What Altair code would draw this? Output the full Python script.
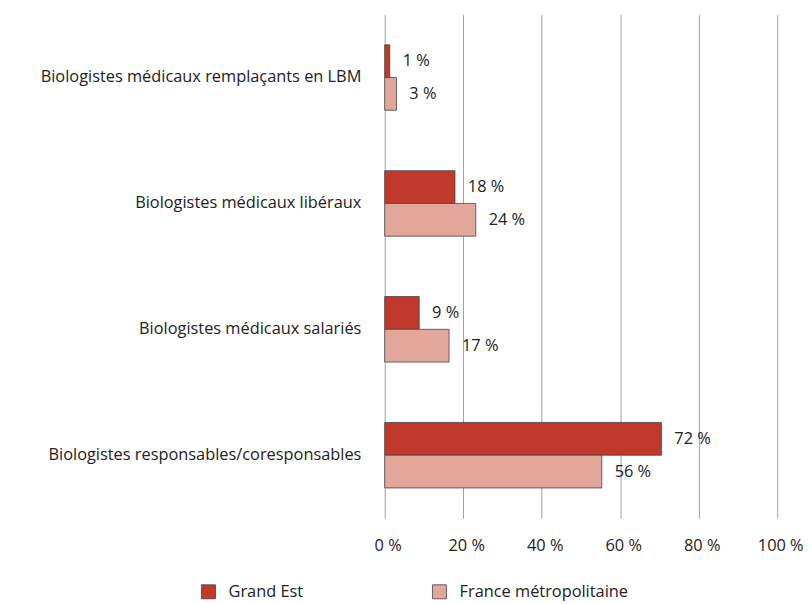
import altair as alt
import pandas as pd

categories = [
    "Biologistes médicaux remplaçants en LBM",
    "Biologistes médicaux libéraux",
    "Biologistes médicaux salariés",
    "Biologistes responsables/coresponsables",
]
series = ["Grand Est", "France métropolitaine"]
grand_est = [1.3, 17.9, 8.8, 70.5]
france = [3.0, 23.2, 16.4, 55.3]
grand_est_labels = ["1 %", "18 %", "9 %", "72 %"]
france_labels = ["3 %", "24 %", "17 %", "56 %"]
colors = ["#c1392b", "#e2a69b"]

rows = []
for i, c in enumerate(categories):
    rows.append({"cat": c, "serie": series[0], "value": grand_est[i], "label": grand_est_labels[i]})
    rows.append({"cat": c, "serie": series[1], "value": france[i], "label": france_labels[i]})
df = pd.DataFrame(rows)

FONT = "Open Sans"
FS = 16.5

y_enc = alt.Y("cat:N", sort=categories, title=None,
              scale=alt.Scale(paddingInner=0.48, paddingOuter=0.24),
              axis=alt.Axis(domain=False, ticks=False, labelPadding=24, labelFontSize=FS,
                            labelColor="#222222", labelFont=FONT, labelLimit=400, grid=False))
yoff = alt.YOffset("serie:N", sort=series, scale=alt.Scale(paddingInner=0, paddingOuter=0))

base = alt.Chart(df)

bars = base.mark_bar(stroke="#444444", strokeWidth=0.8).encode(
    x=alt.X("value:Q", scale=alt.Scale(domain=[0, 100]), title=None,
            axis=alt.Axis(values=[0, 20, 40, 60, 80, 100], labelExpr="datum.value + ' %'",
                          domain=False, ticks=False, labelPadding=20, labelFontSize=FS,
                          labelOffset=3, labelFlush=False, labelOverlap=False,
                          labelColor="#222222", labelFont=FONT, grid=True,
                          gridColor="#a0a0a0", gridWidth=1)),
    y=y_enc,
    yOffset=yoff,
    color=alt.Color("serie:N", sort=series, title=None,
                    scale=alt.Scale(domain=series, range=colors),
                    legend=alt.Legend(orient="none", legendX=-186, legendY=574, direction="horizontal",
                                      symbolType="square", symbolSize=200, symbolStrokeColor="#444444",
                                      symbolStrokeWidth=0.8, labelFontSize=FS, labelFont=FONT,
                                      labelColor="#222222", columnPadding=128, labelOffset=12,
                                      labelLimit=300, padding=0)),
)

text = base.mark_text(align="left", baseline="middle", dx=13, fontSize=FS, font=FONT,
                      color="#222222").encode(
    x="value:Q",
    y=alt.Y("cat:N", sort=categories),
    yOffset=yoff,
    text="label:N",
)

chart = (bars + text).properties(
    width=396, height=508,
    padding={"left": 32, "top": 4, "right": 0, "bottom": 5},
).configure_view(stroke=None)

chart.save("out.html", embed_options={"renderer": "svg", "actions": False})
